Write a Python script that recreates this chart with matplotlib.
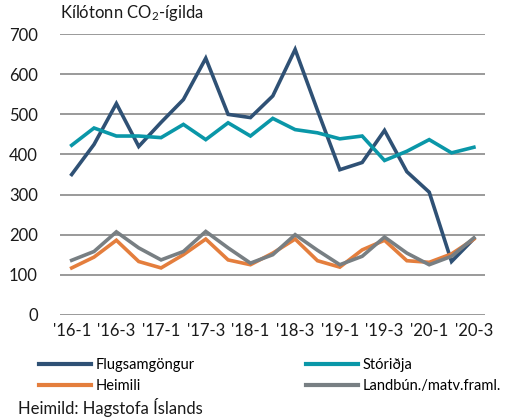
import matplotlib
matplotlib.use("Agg")
import matplotlib.pyplot as plt
from matplotlib.lines import Line2D

plt.rcParams['font.family'] = ['Lato', 'DejaVu Sans']
plt.rcParams['mathtext.fontset'] = 'custom'
plt.rcParams['mathtext.rm'] = 'Lato'
plt.rcParams['mathtext.it'] = 'Lato'

quarters = ["'16-1", "'16-2", "'16-3", "'16-4", "'17-1", "'17-2", "'17-3", "'17-4",
            "'18-1", "'18-2", "'18-3", "'18-4", "'19-1", "'19-2", "'19-3", "'19-4",
            "'20-1", "'20-2", "'20-3"]
flug = [350, 425, 527, 420, 480, 537, 640, 500, 492, 546, 662, 510, 362, 380, 460, 357, 306, 133, 190]
stor = [423, 466, 446, 446, 442, 475, 437, 479, 446, 490, 462, 454, 439, 446, 385, 408, 437, 404, 418]
heim = [117, 144, 186, 133, 117, 150, 189, 137, 125, 154, 189, 135, 119, 162, 186, 135, 131, 152, 189]
land = [136, 158, 207, 167, 137, 158, 208, 167, 129, 150, 200, 161, 125, 146, 194, 154, 125, 146, 192]

names = ["Flugsamgöngur", "Stóriðja", "Heimili", "Landbún./matv.framl."]
colors = ["#2F5175", "#0A97A8", "#E47E3D", "#787F83"]
series = [flug, stor, heim, land]

fig = plt.figure(figsize=(5.09, 4.17), dpi=100)
ax = fig.add_axes([0.118, 0.245, 0.835, 0.673])
x = list(range(len(quarters)))
zs = [3, 3, 3, 4]
for s, c, z in zip(series, colors, zs):
    ax.plot(x, s, color=c, lw=2.6, zorder=z, solid_joinstyle='miter')

ax.set_ylim(0, 700)
ax.set_xlim(-0.52, 18.5)
ax.set_yticks(range(0, 701, 100))
ax.set_xticks(x[::2])
ax.set_xticklabels(quarters[::2])
ax.grid(axis='y', color='#9A9A9A', lw=1.4)
ax.set_axisbelow(True)
for sp in ax.spines.values():
    sp.set_visible(False)
ax.tick_params(length=0, labelsize=12, colors='#1a1a1a')
ax.tick_params(axis='y', pad=16)
ax.tick_params(axis='x', pad=6)

fig.text(0.118, 0.945, r"Kílótonn CO$_2$-ígilda", fontsize=12, ha='left', va='bottom', color='#1a1a1a')

handles = [Line2D([0], [0], color=c, lw=3) for c in colors]
order = [0, 2, 1, 3]
fig.legend([handles[i] for i in order], [names[i] for i in order], loc='upper left',
           bbox_to_anchor=(0.065, 0.155), ncol=2,
           frameon=False, fontsize=10.5, handlelength=3.6, handletextpad=0.3,
           columnspacing=7.6, labelspacing=0.45, borderaxespad=0)

fig.text(0.035, 0.0, "Heimild: Hagstofa Íslands", fontsize=12, ha='left', va='bottom', color='#1a1a1a')

fig.savefig("out.png", dpi=100)
